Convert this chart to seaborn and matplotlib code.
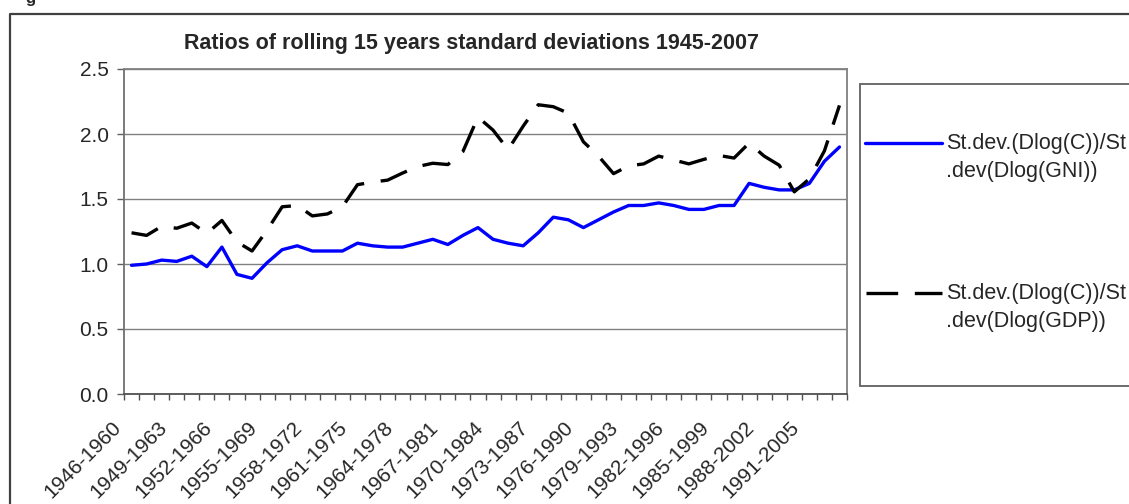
import numpy as np
import pandas as pd
import matplotlib
matplotlib.use("Agg")
import matplotlib.pyplot as plt
import matplotlib.transforms as mtransforms
from matplotlib.lines import Line2D
from matplotlib.patches import Rectangle
import seaborn as sns

# ---------------- data ----------------
categories = [f"{1946 + i}-{1960 + i}" for i in range(48)]

gni_ratio = [0.99, 1.00, 1.03, 1.02, 1.06, 0.98, 1.13, 0.92, 0.89, 1.01,
             1.11, 1.14, 1.10, 1.10, 1.10, 1.16, 1.14, 1.13, 1.13, 1.16,
             1.19, 1.15, 1.22, 1.28, 1.19, 1.16, 1.14, 1.24, 1.36, 1.34,
             1.28, 1.34, 1.40, 1.45, 1.45, 1.47, 1.45, 1.42, 1.42, 1.45,
             1.45, 1.62, 1.59, 1.57, 1.57, 1.62, 1.79, 1.90]

gdp_ratio = [1.24, 1.22, 1.29, 1.275, 1.315, 1.235, 1.335, 1.17, 1.10, 1.26,
             1.44, 1.45, 1.37, 1.385, 1.44, 1.61, 1.63, 1.645, 1.70, 1.75,
             1.775, 1.765, 1.865, 2.13, 2.03, 1.88, 2.06, 2.225, 2.21, 2.16,
             1.94, 1.83, 1.695, 1.755, 1.77, 1.83, 1.80, 1.77, 1.805, 1.835,
             1.815, 1.93, 1.83, 1.76, 1.555, 1.655, 1.87, 2.22]

series_labels = ["St.dev.(Dlog(C))/St\n.dev(Dlog(GNI))",
                 "St.dev.(Dlog(C))/St\n.dev(Dlog(GDP))"]
title_text = "Ratios of rolling 15 years standard deviations 1945-2007"
yticks = [0.0, 0.5, 1.0, 1.5, 2.0, 2.5]
label_step = 3

df = pd.DataFrame({"window": categories, "gni": gni_ratio, "gdp": gdp_ratio})

# ---------------- style ----------------
sns.set_style("white")
plt.rcParams["font.family"] = ["Liberation Sans", "DejaVu Sans"]

W, H = 1129, 504
fig = plt.figure(figsize=(W / 100, H / 100), dpi=100)

def fx(px):
    return px / W

def fy(py):
    return 1 - py / H

ax = fig.add_axes([fx(124), fy(394), fx(847) - fx(124), fy(69) - fy(394)])

LW = 2.4
sns.lineplot(data=df, x="window", y="gni", ax=ax, color="#0000FF",
             linewidth=LW, sort=False, legend=False)
sns.lineplot(data=df, x="window", y="gdp", ax=ax, color="black",
             linewidth=LW, sort=False, legend=False)
ax.lines[1].set_dashes((8.5, 5))
ax.lines[1].set_dash_capstyle("butt")

n = len(categories)
ax.set_xlim(-0.5, n - 0.5)
ax.set_ylim(0, 2.5)
ax.set_xlabel("")
ax.set_ylabel("")

TICK_FS = 15

# y axis
ax.set_yticks(yticks)
ax.set_yticklabels([f"{v:.1f}" for v in yticks], fontsize=TICK_FS)
ax.yaxis.grid(True, color="#808080", linewidth=1.0)
ax.set_axisbelow(True)
ax.tick_params(axis="y", which="major", direction="out", length=5,
               width=1, color="#606060", pad=6, left=True)

# x axis: ticks at category boundaries, labels every third category
ax.set_xticks(np.arange(-0.5, n, 1.0), minor=True)
major_pos = list(range(0, n, label_step))
ax.set_xticks(major_pos)
ax.set_xticklabels([categories[i] for i in major_pos], fontsize=TICK_FS,
                   rotation=45, ha="right", va="center",
                   rotation_mode="anchor")
ax.tick_params(axis="x", which="major", length=0, pad=22)
ax.tick_params(axis="x", which="minor", direction="out", length=4,
               width=1, color="#505050", bottom=True)
offset = mtransforms.ScaledTranslation(-13 / 100, 0, fig.dpi_scale_trans)
for lab in ax.get_xticklabels():
    lab.set_transform(lab.get_transform() + offset)

for side in ["top", "right"]:
    ax.spines[side].set_color("#808080")
    ax.spines[side].set_linewidth(1.3)
ax.spines["left"].set_color("#707070")
ax.spines["left"].set_linewidth(1.3)
ax.spines["bottom"].set_color("#505050")
ax.spines["bottom"].set_linewidth(1.3)

# title
fig.text(fx(471), fy(44), title_text, ha="center", va="center",
         fontsize=15.5, fontweight="bold")

# outer chart frame (extends past right/bottom edge)
fig.add_artist(Line2D([fx(10), fx(10), fx(1140)], [fy(520), fy(14), fy(14)],
                      transform=fig.transFigure, color="#404040", linewidth=1.6))

# partial caption fragment at the very top
fig.text(fx(25), fy(3), "g", ha="left", va="baseline", fontsize=12,
         fontweight="bold")

# legend box
fig.add_artist(Rectangle((fx(860), fy(386)), fx(1140) - fx(860), fy(84) - fy(386),
                         transform=fig.transFigure, facecolor="white",
                         edgecolor="#606060", linewidth=1.3))
fig.add_artist(Line2D([fx(865), fx(942)], [fy(143), fy(143)],
                      transform=fig.transFigure, color="#0000FF", linewidth=LW))
leg2 = Line2D([fx(866), fx(942)], [fy(293), fy(293)],
              transform=fig.transFigure, color="black", linewidth=LW,
              dash_capstyle="butt")
leg2.set_dashes((9.5, 5))
fig.add_artist(leg2)
LEG_FS = 15.5
for lbl, ytop in zip(series_labels, [143, 293]):
    l1, l2 = lbl.split("\n")
    fig.text(fx(946), fy(ytop), l1, ha="left", va="center", fontsize=LEG_FS)
    fig.text(fx(946), fy(ytop + 29), l2, ha="left", va="center", fontsize=LEG_FS)

fig.savefig("out.png", dpi=100)
